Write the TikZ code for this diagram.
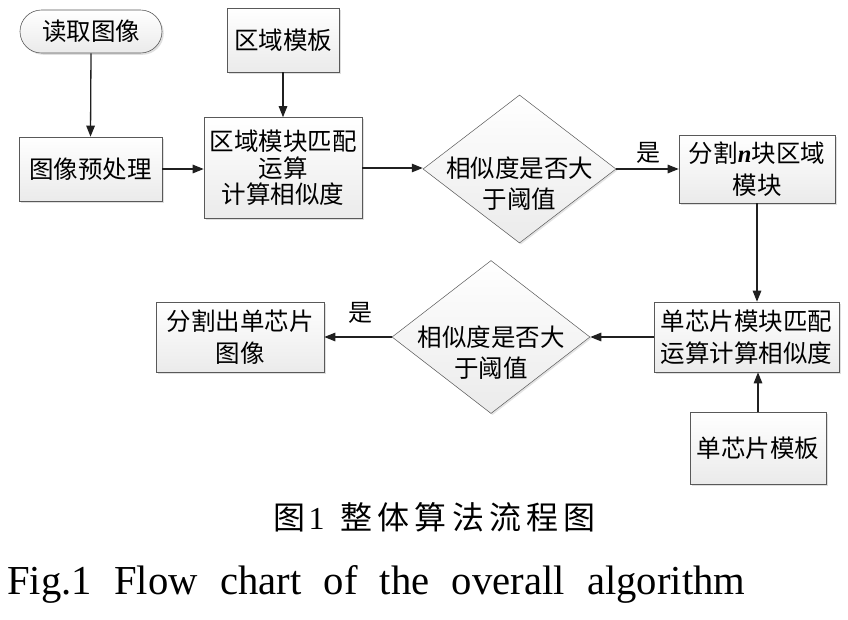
\documentclass[tikz,border=0pt]{standalone}
\usepackage{fontspec}
\setmainfont{Liberation Serif}
\newfontfamily\cjk{Noto Sans CJK SC}
\newfontfamily\cjkcap[LetterSpace=16]{Noto Sans CJK SC}
\newfontfamily\capserif[WordSpace=2.2]{Liberation Serif}
\usetikzlibrary{shapes.geometric,shadows,arrows.meta}
\begin{document}
\begin{tikzpicture}[x=1pt,y=-1pt,
  boxbase/.style={draw=gray!70!black, line width=0.6pt, top color=white, bottom color=gray!16,
    drop shadow={shadow xshift=1.8pt,shadow yshift=-1.8pt,fill=gray!55,opacity=0.45},
    inner sep=0pt, align=center},
  stepbox/.style={boxbase, rectangle, font=\cjk\fontsize{24.5}{32}\selectfont},
  decbox/.style={draw=gray!70!black, line width=0.5pt, top color=white, bottom color=gray!16,
    drop shadow={shadow xshift=1.5pt,shadow yshift=-1.5pt,fill=gray!55,opacity=0.4},
    diamond, inner sep=0pt},
  dectext/.style={font=\cjk\fontsize{24.5}{31}\selectfont, align=center, inner sep=0pt},
  lbl/.style={font=\cjk\fontsize{24}{28}\selectfont, inner sep=0pt},
  flow/.style={draw=gray!25!black, line width=1.3pt, -{Triangle[length=11pt,width=8.5pt]}}
]
\useasboundingbox (0,0) rectangle (848,619);

\node[stepbox, rounded corners=21.5pt, minimum width=142pt, minimum height=43pt] (read) at (91,31.5) {读取图像};
\node[stepbox, minimum width=112pt, minimum height=64pt] (tmpl) at (283,40) {区域模板};
\node[stepbox, minimum width=143pt, minimum height=64pt] (pre) at (90.5,169) {图像预处理};
\node[stepbox, minimum width=158pt, minimum height=101pt, font=\cjk\fontsize{24.5}{26.5}\selectfont] (match) at (283,168) {区域模块匹配\\运算\\计算相似度};
\node[decbox, minimum width=193pt, minimum height=148pt] (d1) at (519.5,169) {};
\node[dectext] (d1t) at (519.5,183.5) {相似度是否大\\于阈值};
\node[stepbox, minimum width=156pt, minimum height=68pt] (split) at (757,169) {分割{\rmfamily\bfseries\itshape n}块区域\\模块};
\node[stepbox, minimum width=185pt, minimum height=70pt] (chip) at (746.5,337) {单芯片模块匹配\\运算计算相似度};
\node[decbox, minimum width=198pt, minimum height=153pt] (d2) at (491,337) {};
\node[dectext] (d2t) at (491,353) {相似度是否大\\于阈值};
\node[stepbox, minimum width=168pt, minimum height=70pt] (out) at (240,337) {分割出单芯片\\图像};
\node[stepbox, minimum width=136pt, minimum height=72pt] (ctmpl) at (758,448) {单芯片模板};

\draw[flow] (read.south) -- (pre.north);
\draw[flow] (tmpl.south) -- (match.north);
\draw[flow] (pre.east) -- (pre.east -| match.west);
\draw[flow] (match.east) -- (match.east -| d1.west);
\draw[flow] (d1.east) -- (d1.east -| split.west);
\node[lbl] (yes1) at (648,153) {是};
\draw[flow] (split.south) -- (split.south |- chip.north);
\draw[flow] (ctmpl.north) -- (ctmpl.north |- chip.south);
\draw[flow] (chip.west) -- (chip.west -| d2.east);
\draw[flow] (d2.west) -- (d2.west -| out.east);
\node[lbl] (yes2) at (360,313) {是};

\node[inner sep=0pt, font=\cjkcap\fontsize{32}{32}\selectfont] (cap1) at (434.5,517.5) {图\hspace{3pt}{\rmfamily 1}\hspace{4pt} 整体算法流程图};
\node[inner sep=0pt, anchor=base west] (cap2) at (7,594) {\resizebox{738pt}{29pt}{\capserif\fontsize{40}{40}\selectfont Fig.1 Flow chart of the overall algorithm}};
\end{tikzpicture}
\end{document}
